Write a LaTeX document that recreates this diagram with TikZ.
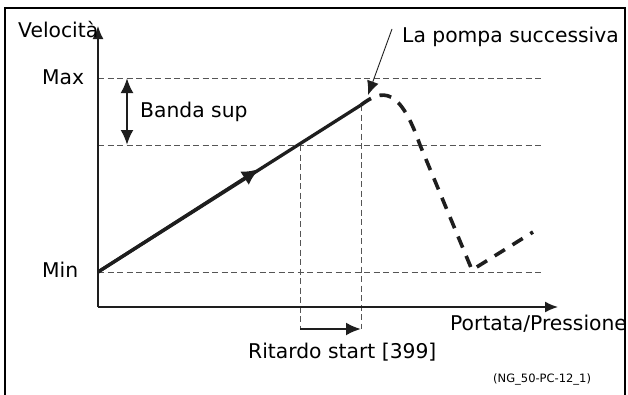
\documentclass[tikz,border=0pt]{standalone}
\usepackage{fontspec}
\setmainfont{DejaVu Sans}
\usepackage{tikz}
\usetikzlibrary{arrows.meta, positioning, calc}
\definecolor{guidegray}{RGB}{85, 85, 85}
\definecolor{inkblack}{RGB}{30, 30, 30}

\begin{document}
\begin{tikzpicture}[
    x=1pt, y=-1pt,
    every node/.style={font=\fontsize{20.3}{23}\selectfont, inner sep=0pt, anchor=base west},
    smalltext/.style={font=\fontsize{11.5}{13}\selectfont},
    axis/.style={
        line width=1.6pt,
        draw=inkblack,
        -{Latex[length=13pt, width=11pt]}
    },
    guide/.style={
        line width=0.9pt,
        draw=guidegray,
        dash pattern=on 6pt off 3.5pt
    },
    ramp/.style={
        line width=3.3pt,
        draw=inkblack
    },
    rampdash/.style={
        line width=3.6pt,
        draw=inkblack,
        dash pattern=on 12pt off 9pt
    },
    arrow/.style={
        line width=2.4pt,
        draw=inkblack,
        -{Latex[length=15pt, width=13pt]}
    },
    pointer/.style={
        line width=0.9pt,
        draw=inkblack,
        -{Latex[length=14pt, width=12pt]}
    }
]
\useasboundingbox (0,0) rectangle (628,394);

% ==================== POINTS ====================
\coordinate (origin) at (98,307);
\coordinate (y_top) at (98,26);
\coordinate (x_end) at (558,307);
\coordinate (v_min) at (98,272);
\coordinate (ramp_mid) at (259,169);
\coordinate (ramp_end) at (361,105);
\coordinate (hit) at (300,145);
\coordinate (peak) at (368,95);
\coordinate (pompa_tail) at (392,29);

\begin{scope}
\clip (5,8) rectangle (624,394);

% ==================== GUIDE LINES ====================
\draw [guide] (98,78) -- (542,78);
\draw [guide] (98,145) -- (542,145);
\draw [guide] (v_min) -- (542,272);
\draw [guide] (hit) -- (300,329);
\draw [guide] (ramp_end) -- (361,329);

% ==================== AXES ====================
\draw [axis] (origin) -- (y_top);
\draw [axis] (origin) -- (x_end);

% ==================== CURVE ====================
\draw [ramp] (v_min) -- (ramp_end);
\draw [ramp, -{Latex[length=17pt, width=16pt]}] (v_min) -- (ramp_mid);
\draw [rampdash] (ramp_end) .. controls (383,88) and (400,88) .. (420,145)
    -- (472,270) -- (533,232);

% ==================== ARROWS ====================
\draw [arrow, {Latex[length=15pt, width=13pt]}-{Latex[length=15pt, width=13pt]}] (127,78) -- (127,145);
\draw [arrow] (300,329) -- (361,329);
\draw [pointer] (pompa_tail) -- (peak);

% ==================== LABELS ====================
\node (y_title) at (18,37) {Velocità};
\node (max_lbl) at (42,84) {Max};
\node (min_lbl) at (42,277) {Min};
\node (band_lbl) at (140,117) {Banda sup};
\node (pompa_lbl) at (402,42) {La pompa successiva si avvia};
\node (x_title) at (450,330) {Portata/Pressione};
\node (delay_lbl) at (248,358) {Ritardo start [399]};
\node (code_lbl) [smalltext] at (493,382) {(NG\_50-PC-12\_1)};
\end{scope}

% ==================== FRAME ====================
\draw [line width=2.5pt, draw=black] (5,8) rectangle (625,420);

\end{tikzpicture}
\end{document}
